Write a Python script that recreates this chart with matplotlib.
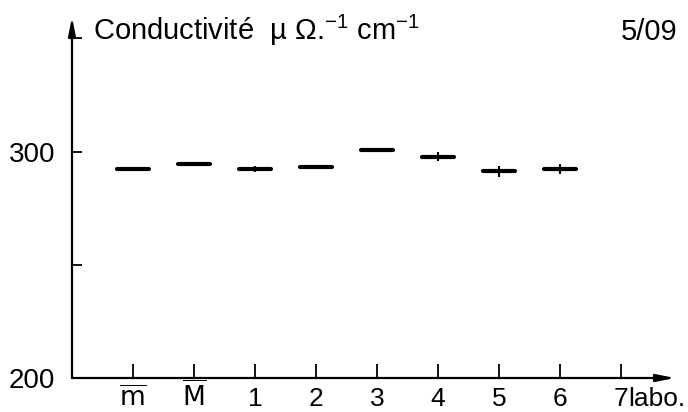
import matplotlib
matplotlib.use("Agg")
import matplotlib.pyplot as plt
import numpy as np

# conductivity per lab (µΩ^-1 cm^-1), with spread
labs = [r"$\overline{\mathrm{m}}$", r"$\overline{\mathrm{M}}$", "1", "2", "3", "4", "5", "6", "7"]
values = [292.3, 294.4, 292.3, 293.3, 300.7, 297.6, 291.2, 292.3]
spread = [0.0, 0.0, 1.5, 0.0, 0.8, 2.0, 2.3, 2.2]
yticks = [200, 250, 300, 350]
ylabels = ["200", "", "300", ""]

plt.rcParams["font.family"] = ["Liberation Sans", "DejaVu Sans"]
plt.rcParams["mathtext.default"] = "regular"

W, H = 688, 412
fig = plt.figure(figsize=(W / 100, H / 100), dpi=100)
x0, x1 = 72, 675      # pixel span of the axes
y0, y1 = 378, 17
ax = fig.add_axes([x0 / W, (H - y0) / H, (x1 - x0) / W, (y0 - y1) / H])

ax.set_xlim(0, (x1 - x0) / 61.0)
ax.set_ylim(200, 200 + (y0 - y1) / 2.265)
for s in ax.spines.values():
    s.set_visible(False)

# axes drawn as arrows
arrow = dict(arrowstyle="-|>,head_length=1.1,head_width=0.22", lw=1.6,
             color="black", shrinkA=0, shrinkB=0)
ax.annotate("", xy=(0, 1), xytext=(0, 0), xycoords="axes fraction",
            arrowprops=arrow, annotation_clip=False)
ax.annotate("", xy=(1, 0), xytext=(0, 0), xycoords="axes fraction",
            arrowprops=arrow, annotation_clip=False)

pos = np.arange(1, len(labs) + 1)
ax.set_xticks(pos, labs, fontsize=19)
ax.tick_params(axis="x", direction="in", length=10, width=1.3, pad=20.2)
for lbl in ax.get_xticklabels():
    lbl.set_verticalalignment("baseline")
ax.set_yticks(yticks, ylabels, fontsize=20)
ax.tick_params(axis="y", direction="in", length=7, width=1.3, pad=12)

p = pos[:len(values)]
v = np.array(values)
e = np.array(spread)
ax.hlines(v, p - 0.27, p + 0.27, color="black", lw=3.0, capstyle="round")
ax.vlines(p, v - e, v + e, color="black", lw=1.5)

fig.text(93 / W, 1 - 40 / H, "Conductivité  µ Ω.$^{-1}$ cm$^{-1}$",
         fontsize=21, va="baseline", ha="left")
fig.text(677 / W, 1 - 40 / H, "5/09", fontsize=21, va="baseline", ha="right")
fig.text(628 / W, 1 - 406 / H, "labo.", fontsize=19, va="baseline", ha="left")

fig.savefig("out.png", dpi=100, facecolor="white")
